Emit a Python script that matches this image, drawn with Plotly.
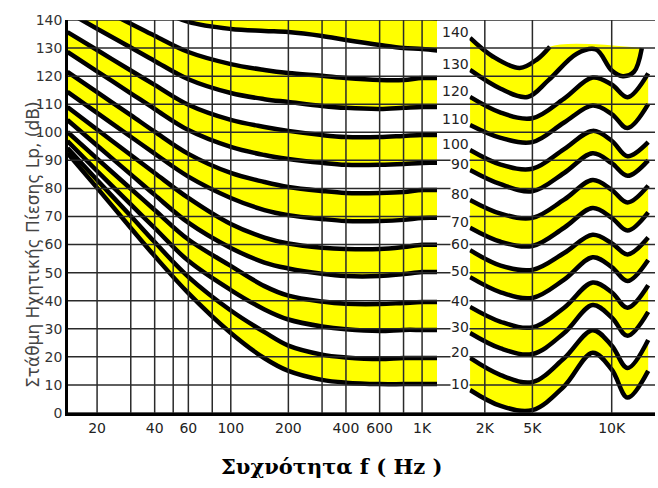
import plotly.graph_objects as go

# ---------------- data (dB SPL) ----------------
PHONS = [10, 20, 30, 40, 50, 60, 70, 80, 90, 100, 110, 120, 130, 140]

LEFT_FREQ = [14, 20, 30, 40, 60, 100, 150, 200, 300, 400, 600, 800, 1000, 1250]
L10 = [92.6, 80.2, 65.9, 55.9, 42.7, 28.5, 19.5, 15.0, 11.8, 10.8, 10.3, 10.3, 10.3, 10.3]
L20 = [94.4, 83.0, 70.2, 60.9, 48.5, 36.5, 28.8, 24.0, 20.8, 19.8, 19.2, 19.6, 19.6, 19.6]
L30 = [96.9, 86.2, 74.3, 65.9, 54.2, 43.8, 36.9, 33.3, 30.8, 29.8, 29.2, 29.6, 29.6, 29.6]
L40 = [100.1, 90.6, 79.9, 72.3, 61.8, 52.4, 45.2, 41.8, 39.7, 38.9, 38.8, 39.2, 39.5, 39.5]
L50 = [104.4, 95.3, 85.0, 77.7, 67.8, 58.8, 53.6, 51.5, 49.6, 48.8, 48.8, 49.5, 50.2, 50.2]
L60 = [109.0, 101.0, 91.9, 85.5, 76.6, 67.3, 62.5, 60.4, 58.9, 58.4, 58.4, 59.1, 59.9, 59.9]
L70 = [114.4, 106.9, 98.4, 92.4, 84.2, 76.6, 72.3, 70.5, 69.1, 68.4, 68.4, 68.8, 69.5, 69.5]
L80 = [121.5, 114.3, 106.1, 100.2, 92.3, 85.5, 82.3, 80.5, 79.1, 78.4, 78.4, 78.7, 79.4, 79.4]
L90 = [128.6, 121.7, 113.9, 108.3, 100.8, 94.8, 91.9, 90.5, 89.1, 88.4, 88.4, 88.7, 89.1, 89.1]
L100 = [135.7, 129.3, 122.0, 116.9, 109.8, 104.4, 101.9, 100.5, 99.0, 98.3, 98.3, 98.7, 99.0, 99.0]
L110 = [142.9, 136.9, 130.2, 125.4, 118.9, 114.0, 111.8, 110.8, 109.4, 108.7, 108.3, 108.7, 109.0, 109.0]
L120 = [150.0, 144.7, 138.7, 134.4, 128.6, 124.3, 122.2, 121.1, 120.1, 119.3, 118.6, 118.6, 119.3, 119.3]
L130 = [157.8, 153.2, 148.1, 144.4, 139.3, 136.8, 136.1, 135.7, 134.3, 132.9, 131.1, 130.0, 129.7, 129.0]
L140 = [170.0, 165.0, 160.0, 157.0, 152.0, 147.0, 145.0, 144.0, 143.0, 142.5, 142.0, 141.5, 141.0, 140.5]

RIGHT_FREQ = [1070, 3000, 5000, 7000, 8800, 10000, 11000, 12300]
R10 = [8.2, 2.5, 1.0, 9.5, 21.5, 15.5, 5.5, 15.0]
R20 = [19.6, 13.5, 11.0, 19.5, 29.5, 24.0, 16.0, 26.0]
R30 = [28.5, 23.0, 21.0, 28.5, 38.5, 34.0, 27.5, 36.0]
R40 = [37.8, 32.5, 30.5, 37.5, 46.5, 43.0, 37.5, 45.5]
R50 = [48.4, 43.0, 41.0, 47.5, 55.5, 52.0, 47.0, 54.5]
R60 = [58.0, 52.5, 51.0, 57.0, 63.5, 60.5, 56.5, 62.5]
R70 = [66.0, 61.0, 59.5, 66.0, 73.0, 69.5, 65.0, 71.5]
R80 = [75.9, 71.0, 69.5, 76.0, 83.0, 79.5, 75.0, 81.0]
R90 = [86.6, 81.5, 79.0, 85.5, 92.5, 89.0, 84.5, 90.0]
R100 = [93.7, 88.5, 87.0, 94.0, 100.5, 97.0, 91.5, 96.5]
R110 = [102.6, 98.0, 96.5, 103.5, 109.5, 106.5, 101.5, 110.0]
R120 = [112.6, 107.0, 105.0, 112.0, 119.5, 117.0, 112.5, 121.0]
R130_FREQ = [1070, 3000, 4700, 6000, 7800, 9000, 10000, 10700, 11400, 11900]
R130 = [122.2, 115.5, 112.6, 118.5, 128.0, 129.5, 122.0, 120.0, 121.5, 130.0]
R140_FREQ = [1070, 2500, 4200, 5300, 6100]
R140 = [133.6, 127.0, 122.9, 126.0, 130.5]
RIGHT_CAP = 130  # the right-hand shading stops at the 130 dB line

LEFT_TICKS = [20, 30, 40, 50, 60, 80, 100, 200, 300, 400, 600, 800, 1000]
LEFT_TICKTEXT = ["20", "", "40", "", "60", "", "100", "200", "", "400", "600", "", "1K"]
RIGHT_TICKS = [2000, 5000, 10000]
RIGHT_TICKTEXT = ["2K", "5K", "10K"]
Y_TICKS = list(range(0, 141, 10))

YELLOW_PAIRS = [(10, 20), (30, 40), (50, 60), (70, 80), (90, 100), (110, 120), (130, 140)]

left = dict(zip(PHONS, [L10, L20, L30, L40, L50, L60, L70, L80, L90, L100, L110, L120, L130, L140]))
right = dict(zip(PHONS, [R10, R20, R30, R40, R50, R60, R70, R80, R90, R100, R110, R120, R130, R140]))
right_x = {p: RIGHT_FREQ for p in PHONS}
right_x[130] = R130_FREQ
right_x[140] = R140_FREQ

YEL = "#ffff00"
fig = go.Figure()


def add(x, y, xa, ya, **kw):
    fig.add_trace(go.Scatter(x=x, y=y, xaxis=xa, yaxis=ya, mode="lines",
                             showlegend=False, hoverinfo="skip", **kw))


# yellow bands
for lo, hi in YELLOW_PAIRS:
    add(LEFT_FREQ, left[lo], "x", "y", line=dict(width=0, shape="spline"))
    add(LEFT_FREQ, left[hi], "x", "y", line=dict(width=0, shape="spline"),
        fill="tonexty", fillcolor=YEL)
for lo, hi in YELLOW_PAIRS:
    add(right_x[lo], right[lo], "x2", "y2", line=dict(width=0, shape="spline"))
    if hi == 140:
        hx = R140_FREQ + [R130_FREQ[-1]]
        hy = R140 + [RIGHT_CAP]
    else:
        hx, hy = right_x[hi], right[hi]
    add(hx, hy, "x2", "y2", line=dict(width=0, shape="spline"),
        fill="tonexty", fillcolor=YEL)

# black contours
for p in PHONS:
    add(LEFT_FREQ, left[p], "x", "y", line=dict(width=4.5, color="black", shape="spline"))
    add(right_x[p], right[p], "x2", "y2", line=dict(width=4.5, color="black", shape="spline"))

GRID = "#2a2a2a"
GRIDW = 1.5
TICKFONT = dict(family="DejaVu Sans", size=14, color="#222")
LEFT_DOM = [68 / 658, 437 / 658]
RIGHT_DOM = [437 / 658, 655 / 658]
Y_DOM = [75 / 488, 468 / 488]

fig.update_layout(
    template="none",
    width=658, height=488,
    margin=dict(l=0, r=0, t=0, b=0, pad=0),
    paper_bgcolor="white", plot_bgcolor="white",
    xaxis=dict(type="log", domain=LEFT_DOM, automargin=False,
               range=[1.149, 3.078], tickvals=LEFT_TICKS, ticktext=LEFT_TICKTEXT,
               showgrid=False, ticks="", zeroline=False, layer="above traces",
               showline=True, linecolor="black", linewidth=2.5,
               tickfont=TICKFONT, anchor="y"),
    yaxis=dict(domain=Y_DOM, range=[0, 140], tickvals=Y_TICKS, automargin=False,
               showgrid=False, zeroline=False, ticks="", layer="above traces",
               showline=True, linecolor="black", linewidth=2.5,
               tickfont=dict(family="DejaVu Sans", size=14, color="#333"),
               anchor="x"),
    xaxis2=dict(domain=RIGHT_DOM, range=[-1015, 12730], automargin=False,
                tickvals=RIGHT_TICKS, ticktext=RIGHT_TICKTEXT,
                showgrid=False, ticks="", zeroline=False, layer="above traces",
                showline=True, linecolor="black", linewidth=2.5,
                tickfont=TICKFONT, anchor="y2"),
    yaxis2=dict(domain=Y_DOM, range=[0, 140], tickvals=Y_TICKS, automargin=False,
                showgrid=False, zeroline=False,
                showline=False, showticklabels=False, ticks="", anchor="x2"),
)

# grid drawn over the shading (as in the printed chart)
gl = dict(color=GRID, width=GRIDW)
for t in LEFT_TICKS:
    fig.add_shape(type="line", xref="x", yref="y domain", x0=t, x1=t, y0=0, y1=1,
                  line=gl, layer="above")
for t in RIGHT_TICKS:
    fig.add_shape(type="line", xref="x2", yref="y2 domain", x0=t, x1=t, y0=0, y1=1,
                  line=gl, layer="above")
for t in Y_TICKS:
    fig.add_shape(type="line", xref="paper", yref="y", x0=LEFT_DOM[0], x1=RIGHT_DOM[1],
                  y0=t, y1=t, line=gl, layer="above")

for p in PHONS:
    fig.add_annotation(x=right_x[p][0], y=right[p][0], xref="x2", yref="y2",
                       text=str(p), showarrow=False, xanchor="right", yanchor="middle",
                       yshift=6, bgcolor="white", borderpad=0,
                       font=dict(family="DejaVu Sans", size=14, color="#222"))

fig.add_annotation(x=21 / 658, y=(488 - 245) / 488, xref="paper", yref="paper",
                   text="Στάθμη Ηχητικής Πίεσης Lp, (dB)", textangle=-90, showarrow=False,
                   font=dict(family="DejaVu Sans", size=17, color="#444"))
fig.add_annotation(x=331 / 658, y=(488 - 481) / 488, xref="paper", yref="paper",
                   text="<b>Συχνότητα f ( Hz )</b>", showarrow=False,
                   font=dict(family="DejaVu Serif", size=21, color="black"))

fig.write_html("out.html", config={"displayModeBar": False},
               post_script="document.body.style.margin='0px';")
